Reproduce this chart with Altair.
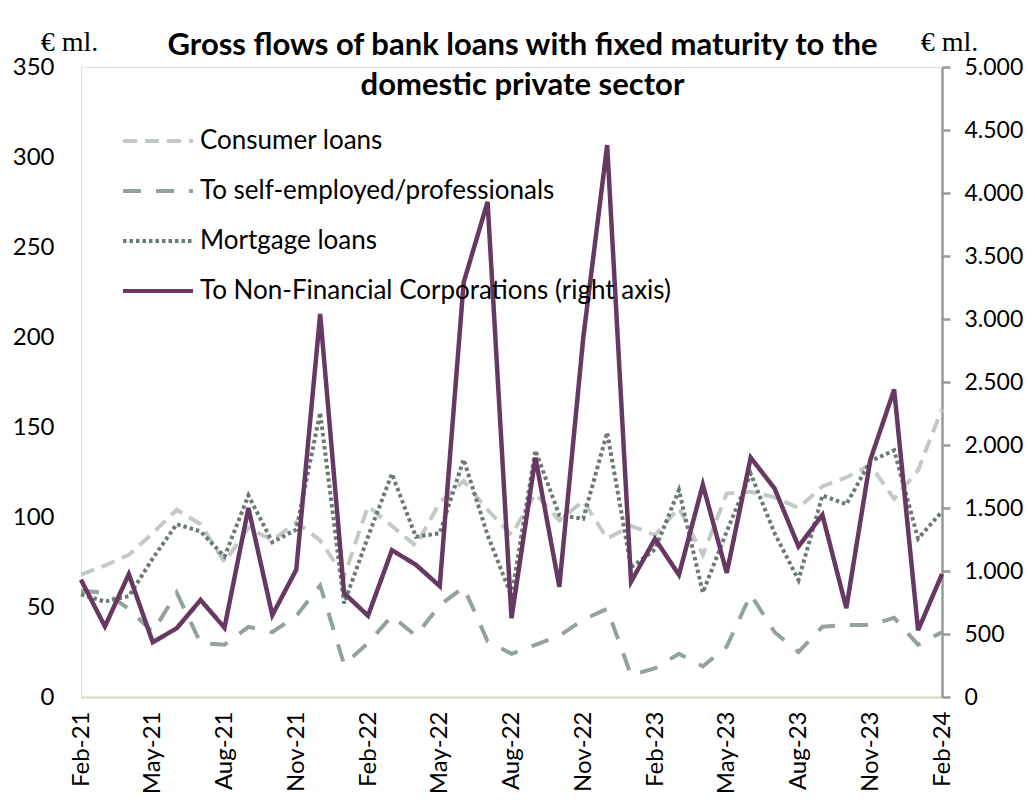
import altair as alt
import pandas as pd

months = ["Feb-21", "Mar-21", "Apr-21", "May-21", "Jun-21", "Jul-21", "Aug-21", "Sep-21", "Oct-21", "Nov-21",
          "Dec-21", "Jan-22", "Feb-22", "Mar-22", "Apr-22", "May-22", "Jun-22", "Jul-22", "Aug-22", "Sep-22",
          "Oct-22", "Nov-22", "Dec-22", "Jan-23", "Feb-23", "Mar-23", "Apr-23", "May-23", "Jun-23", "Jul-23",
          "Aug-23", "Sep-23", "Oct-23", "Nov-23", "Dec-23", "Jan-24", "Feb-24"]

consumer = [68, 73, 79, 91, 104, 96, 75, 94, 87, 97, 87, 67, 106, 95, 84, 108, 120, 104, 90, 113,
            98, 109, 88, 95, 90, 105, 79, 113, 114, 111, 105, 117, 122, 129, 110, 126, 160]
self_employed = [59, 58, 49, 36, 58, 30, 29, 39, 36, 45, 62, 18, 30, 45, 34, 51, 61, 31, 24, 29,
                 34, 43, 49, 12, 16, 24, 17, 28, 57, 36, 25, 39, 40, 40, 44, 29, 36]
mortgage = [57, 53, 56, 77, 96, 92, 78, 112, 86, 93, 158, 52, 89, 124, 89, 91, 132, 90, 56, 137,
            101, 99, 147, 72, 82, 115, 58, 92, 124, 91, 65, 112, 107, 131, 137, 88, 103]
nfc = [930, 560, 975, 435, 545, 770, 550, 1500, 650, 1010, 3040, 825, 645, 1165, 1050, 880, 3290, 3930, 625, 1900,
       875, 2850, 4380, 915, 1255, 970, 1685, 985, 1900, 1655, 1195, 1445, 705, 1880, 2440, 530, 975]

series_names = ["Consumer loans", "To self-employed/professionals", "Mortgage loans",
                "To Non-Financial Corporations (right axis)"]
left_ticks = [0, 50, 100, 150, 200, 250, 300, 350]
right_ticks = [0, 500, 1000, 1500, 2000, 2500, 3000, 3500, 4000, 4500, 5000]
x_ticks = months[::3]

colors = ["#c3cac6", "#94a39a", "#6b7b72", "#673862"]
dashes = [[14, 8], [18, 15], [3.5, 3], [1, 0]]

rows = []
for name, vals in zip(series_names, [consumer, self_employed, mortgage, nfc]):
    for m, v in zip(months, vals):
        rows.append({"month": m, "series": name, "value": v})
df = pd.DataFrame(rows)

FONT = "Lato"

legend = alt.Legend(
    title=None, orient="none", legendX=40, legendY=37,
    symbolType="stroke", symbolSize=4900, symbolStrokeWidth=4,
    labelFont=FONT, labelFontSize=26, labelColor="#000000", labelOffset=5,
    labelLimit=800, rowPadding=-21, direction="vertical",
)
color_enc = alt.Color("series:N", scale=alt.Scale(domain=series_names, range=colors), legend=legend)
dash_enc = alt.StrokeDash("series:N", scale=alt.Scale(domain=series_names, range=dashes), legend=legend)

x_enc = alt.X(
    "month:N", sort=months, scale=alt.Scale(type="point", padding=0),
    axis=alt.Axis(values=x_ticks, labelAngle=-90, title=None, ticks=False, grid=False,
                  domainColor="#e0dcd4", domainWidth=2.5, labelPadding=14,
                  labelFont=FONT, labelFontSize=24, labelColor="#000000"),
)

left = alt.Chart(df).transform_filter(
    alt.FieldOneOfPredicate(field="series", oneOf=series_names[:3])
).mark_line(strokeWidth=4, strokeCap="butt").encode(
    x=x_enc,
    y=alt.Y("value:Q", scale=alt.Scale(domain=[0, 350]),
            axis=alt.Axis(values=left_ticks, grid=False, domain=False, ticks=False, labelPadding=27,
                          labelFont=FONT, labelFontSize=24, labelColor="#000000",
                          title="€ ml.", titleAngle=0, titleX=-12, titleY=-17,
                          titleAlign="center", titleBaseline="alphabetic",
                          titleFont="Liberation Serif", titleFontSize=28, titleFontWeight="normal",
                          titleColor="#000000")),
    color=color_enc,
    strokeDash=dash_enc,
)

right = alt.Chart(df).transform_filter(
    alt.FieldEqualPredicate(field="series", equal=series_names[3])
).mark_line(strokeWidth=4.5).encode(
    x=x_enc,
    y=alt.Y("value:Q", scale=alt.Scale(domain=[0, 5000]),
            axis=alt.Axis(orient="right", values=right_ticks, grid=False,
                          domainColor="#999999", domainWidth=2.5, tickColor="#999999", tickWidth=2.5,
                          tickSize=8, labelPadding=14,
                          labelExpr="replace(format(datum.value, ',d'), ',', '.')",
                          labelFont=FONT, labelFontSize=23, labelColor="#000000",
                          title="€ ml.", titleAngle=0, titleX=7, titleY=-17,
                          titleAlign="center", titleBaseline="alphabetic",
                          titleFont="Liberation Serif", titleFontSize=28, titleFontWeight="normal",
                          titleColor="#000000")),
    color=color_enc,
    strokeDash=dash_enc,
)

chart = alt.layer(left, right).resolve_scale(y="independent").properties(
    width=861, height=630,
    autosize=alt.AutoSizeParams(type="none"),
    padding={"left": 73, "top": 59, "right": 85, "bottom": 98},
    title=alt.TitleParams(
        text=["Gross flows of bank loans with fixed maturity to the", "domestic private sector"],
        font=FONT, fontSize=31, fontWeight="bold", color="#000000",
        anchor="middle", dx=11, offset=-74, lineHeight=40,
    ),
).configure_view(stroke=None).configure(background="white")

chart.save("out.html", embed_options={"renderer": "svg", "actions": False})
